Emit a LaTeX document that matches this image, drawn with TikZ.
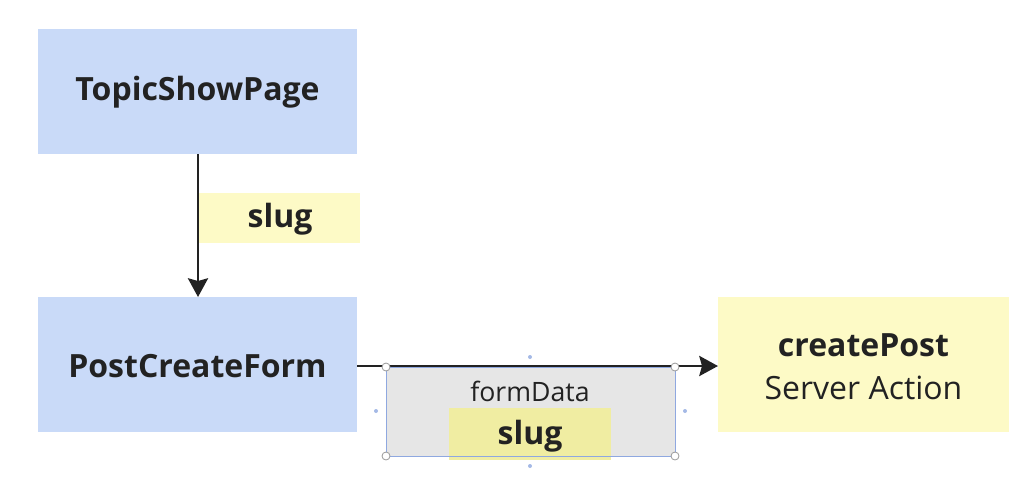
\documentclass[tikz,border=0pt]{standalone}
\usepackage{fontspec}
\setmainfont{Open Sans}
\usetikzlibrary{arrows.meta}
\definecolor{bluebox}{HTML}{C9DAF8}
\definecolor{yelbox}{HTML}{FDFAC6}
\definecolor{yelin}{HTML}{F0EDA2}
\definecolor{greybox}{HTML}{E6E6E6}
\definecolor{selblue}{HTML}{8FA8E0}
\definecolor{ink}{HTML}{222222}
\tikzset{
  x=0.75pt, y=-0.75pt,
  conn/.style={draw=ink, line width=2.2pt, -{Stealth[length=14pt,width=15pt,inset=2pt]}},
  handle/.style={circle, draw=gray!80, fill=white, line width=0.6pt, inner sep=0pt, minimum size=6pt},
  dotm/.style={circle, fill=selblue!80, inner sep=0pt, minimum size=3pt},
  big/.style={font=\fontsize{24}{28}\selectfont\bfseries, text=ink},
  reg/.style={font=\fontsize{24}{28}\selectfont, text=ink},
  small/.style={font=\fontsize{20}{24}\selectfont, text=ink},
}
\begin{document}
\begin{tikzpicture}
\useasboundingbox (0,0) rectangle (1025,479);
\fill[bluebox] (38,29) rectangle (357,154);
\node[big] (tsp) at (197.5,92) {TopicShowPage};
\coordinate (tspb) at (198,154);
\fill[yelbox] (199,193) rectangle (360,243);
\node[big] (slug1) at (280,219) {slug};
\fill[bluebox] (38,297) rectangle (357,432);
\node[big] (pcf) at (197.5,366) {PostCreateForm};
\coordinate (pcft) at (198,297);
\coordinate (pcfr) at (357,366);
\fill[yelbox] (718,297) rectangle (1009,432);
\node[big] (cp) at (863.5,345) {createPost};
\node[reg] (sa) at (863.5,388) {Server Action};
\coordinate (cpl) at (718,366);
\fill[greybox] (386,367) rectangle (675,456);
\fill[yelin] (449,408) rectangle (611,460);
\draw[selblue, line width=0.5pt] (386,367) rectangle (675,456);
\node[small] (fd) at (530,391) {formData};
\node[big] (slug2) at (530,436) {slug};
\draw[conn] (tspb) -- (pcft);
\draw[conn] (pcfr) -- (cpl);
\foreach \p in {(386,367),(675,367),(386,456),(675,456)} \node[handle] at \p {};
\foreach \p in {(530,357),(530,466),(376,411),(685,411)} \node[dotm] at \p {};
\end{tikzpicture}
\end{document}
